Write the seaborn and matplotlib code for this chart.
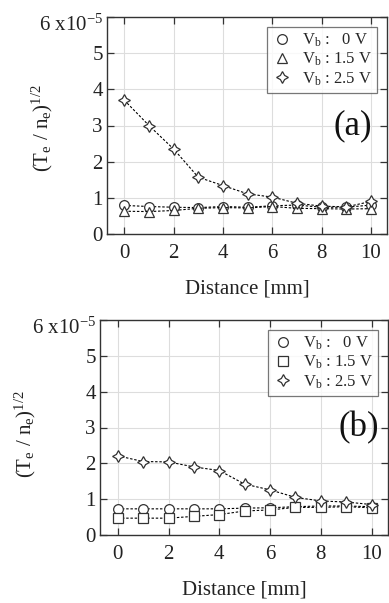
import numpy as np
import pandas as pd
import matplotlib
matplotlib.use("Agg")
import matplotlib.pyplot as plt
import seaborn as sns

distance = [0, 1, 2, 3, 4, 5, 6, 7, 8, 9, 10]

a_0v = [0.79, 0.76, 0.74, 0.73, 0.76, 0.74, 0.78, 0.80, 0.74, 0.74, 0.80]
a_15v = [0.63, 0.62, 0.65, 0.71, 0.73, 0.72, 0.76, 0.71, 0.70, 0.69, 0.70]
a_25v = [3.70, 3.00, 2.35, 1.57, 1.34, 1.11, 1.02, 0.85, 0.77, 0.75, 0.90]

b_0v = [0.73, 0.73, 0.73, 0.73, 0.73, 0.75, 0.76, 0.79, 0.81, 0.81, 0.79]
b_15v = [0.47, 0.47, 0.47, 0.52, 0.57, 0.67, 0.70, 0.77, 0.77, 0.79, 0.76]
b_25v = [2.21, 2.05, 2.04, 1.90, 1.80, 1.42, 1.26, 1.05, 0.95, 0.92, 0.85]

labels = ["V$_\\mathrm{b}$ :   0 V", "V$_\\mathrm{b}$ : 1.5 V", "V$_\\mathrm{b}$ : 2.5 V"]
yticks = [0, 1, 2, 3, 4, 5, 6]
yticklabels = ["0", "1", "2", "3", "4", "5", ""]
top_label = "6 x10$^{-5}$"
xticks = [0, 2, 4, 6, 8, 10]

sns.set_theme(style="whitegrid")
plt.rcParams["font.family"] = ["Liberation Serif", "DejaVu Serif"]
plt.rcParams["mathtext.fontset"] = "custom"
plt.rcParams["mathtext.rm"] = "Liberation Serif"
plt.rcParams["mathtext.it"] = "Liberation Serif:italic"
plt.rcParams["mathtext.bf"] = "Liberation Serif:bold"

fig = plt.figure(figsize=(3.89, 6.03), dpi=100)
ax1 = fig.add_axes([107/389, (603-234)/603, 280/389, 217/603])
ax2 = fig.add_axes([100/389, (603-535)/603, 288/389, 215/603])

star = (4, 1, 0)

def draw(ax, series, markers, tag, tagx, ylab_x, ylab_y):
    for vals, mk, lab in zip(series, markers, labels):
        df = pd.DataFrame({"d": distance, "v": vals})
        sns.lineplot(data=df, x="d", y="v", ax=ax, color="black",
                     linestyle=(0, (2.2, 1.6)), linewidth=0.8,
                     marker=mk, markersize=7 if mk != star else 8.5,
                     markerfacecolor="white", markeredgecolor="#333333",
                     markeredgewidth=0.9, label=lab)
    ax.set_xlim(-0.7, 10.65)
    ax.set_ylim(0, 6)
    ax.set_xticks(xticks)
    ax.set_yticks(yticks)
    ax.set_yticklabels(yticklabels)
    ax.grid(True, color="#dddddd", linewidth=0.8)
    ax.set_facecolor("white")
    for s in ax.spines.values():
        s.set_color("#333333")
        s.set_linewidth(1.0)
        s.set_visible(True)
    ax.tick_params(direction="in", length=5, width=0.9, colors="#333333",
                   labelcolor="#222222", labelsize=15, top=True, right=True,
                   bottom=True, left=True, pad=3)
    ax.tick_params(axis="x", pad=7)
    ax.annotate(top_label, xy=(0, 1), xycoords="axes fraction",
                xytext=(-3, -6), textcoords="offset points",
                ha="right", va="center", fontsize=15, color="#222222")
    ax.set_xlabel("Distance [mm]", fontsize=15, color="#222222", labelpad=12)
    ax.set_ylabel("(T$_\\mathrm{e}$ / n$_\\mathrm{e}$)$^{1/2}$", fontsize=15,
                  color="#222222")
    ax.yaxis.set_label_coords(ylab_x, ylab_y)
    leg = ax.legend(loc="upper right", fontsize=12, frameon=True, fancybox=False,
                    borderaxespad=0.6, handletextpad=0.6, handlelength=1.2,
                    borderpad=0.3, labelspacing=0.1)
    leg.get_frame().set_edgecolor("#555555")
    leg.get_frame().set_linewidth(0.9)
    for h in leg.legend_handles:
        h.set_linestyle("none")
    ax.text(tagx, 0.5, tag, transform=ax.transAxes, fontsize=25,
            ha="right", va="center", color="#111111")

draw(ax1, [a_0v, a_15v, a_25v], ["o", "^", star], "(a)", 0.946, -0.186, 0.49)
draw(ax2, [b_0v, b_15v, b_25v], ["o", "s", star], "(b)", 0.97, -0.215, 0.47)

fig.savefig("out.png", dpi=100, facecolor="white")
